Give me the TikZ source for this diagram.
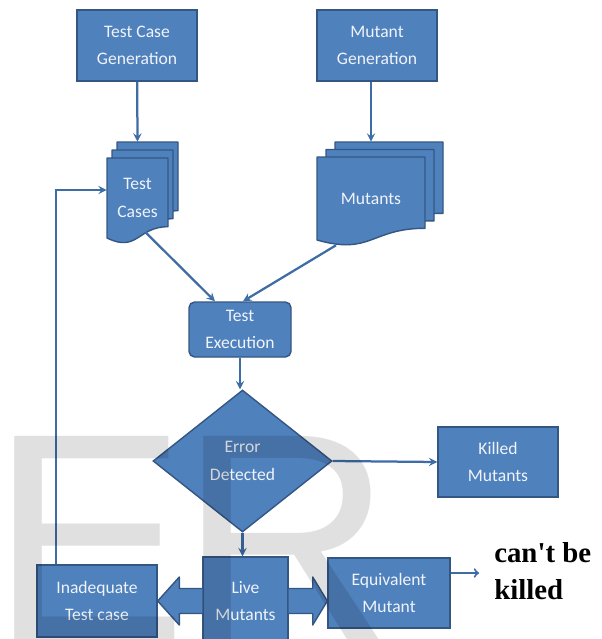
\documentclass[tikz,border=0pt]{standalone}
\usepackage{fontspec}
\setmainfont{Carlito}
\newfontfamily\noteFont{Liberation Serif}
\newfontfamily\markFont{Liberation Sans}
\usetikzlibrary{shapes.geometric, calc}

\definecolor{boxBlue}{RGB}{79,129,189}
\definecolor{edgeBlue}{RGB}{52,86,130}
\definecolor{lineBlue}{RGB}{62,108,166}
\definecolor{boxText}{RGB}{240,244,250}
\newcommand{\pxu}{0.025cm}

\begin{document}
\begin{tikzpicture}[
            x=\pxu, y=-\pxu,
            procNode/.style={rectangle, draw=edgeBlue, fill=boxBlue, line width=1pt,
            text=boxText, inner sep=0pt, align=center, font=\fontsize{12.5}{19}\selectfont},
            decisionNode/.style={diamond, draw=edgeBlue, fill=boxBlue, line width=1pt,
            text=boxText, inner sep=0pt, align=center, font=\fontsize{12.5}{20}\selectfont},
            docText/.style={text=boxText, inner sep=0pt, align=center, font=\fontsize{12.5}{20.5}\selectfont},
            sheet/.style={draw=edgeBlue, fill=boxBlue, line width=1pt, line join=round},
            blockArrow/.style={draw=edgeBlue, fill=boxBlue, line width=1pt, line join=round},
            arrow/.style={line width=1.6pt, draw=lineBlue, ->, >=stealth},
            noteArrow/.style={line width=1.4pt, draw=lineBlue, ->, >=to},
            wmark/.style={text=black, text opacity=0.12, inner sep=0pt, anchor=base west,
            font=\markFont\fontsize{210}{210}\selectfont},
        ]
        \clip (0,0) rectangle (602,639);

        % generators
        \node[procNode, minimum width=120*\pxu, minimum height=71*\pxu] (testCaseGen) at (137,45.5) {Test Case\\Generation};
        \node[procNode, minimum width=120*\pxu, minimum height=71*\pxu] (mutantGen) at (377,45.5) {Mutant\\Generation};

        % stacked documents
        \draw[sheet] (117,142) -- (178,142) -- (178,210.7) .. controls (147.5,210.7) and (147.5,236.9) .. (117,222) -- cycle;
        \draw[sheet] (112,150) -- (173,150) -- (173,218.7) .. controls (142.5,218.7) and (142.5,244.9) .. (112,230) -- cycle;
        \draw[sheet] (107,158) -- (168,158) -- (168,226.7) .. controls (137.5,226.7) and (137.5,252.9) .. (107,238) -- cycle;
        \node[docText, minimum width=61*\pxu, minimum height=80*\pxu] (testCases) at (137.5,198) {Test\\Cases};

        \draw[sheet] (335,142) -- (443,142) -- (443,213.3) .. controls (389,213.3) and (389,240.4) .. (335,225) -- cycle;
        \draw[sheet] (326,149.5) -- (434,149.5) -- (434,220.8) .. controls (380,220.8) and (380,247.9) .. (326,232.5) -- cycle;
        \draw[sheet] (317,157) -- (425,157) -- (425,228.3) .. controls (371,228.3) and (371,255.4) .. (317,240) -- cycle;
        \node[docText, minimum width=108*\pxu, minimum height=83*\pxu] (mutants) at (371,198.5) {Mutants};

        % execution and decision
        \node[procNode, rounded corners=4pt, minimum width=102*\pxu, minimum height=55*\pxu] (testExec) at (240,329.5) {Test\\Execution};
        \node[decisionNode, minimum width=179*\pxu, minimum height=142*\pxu] (errDetect) at (242.5,461) {Error\\Detected};
        \node[procNode, minimum width=120*\pxu, minimum height=70*\pxu] (killedMut) at (498,462) {Killed\\Mutants};

        % bottom row
        \node[procNode, minimum width=120*\pxu, minimum height=72*\pxu] (inadTest) at (97,601) {Inadequate\\Test case};
        \node[procNode, minimum width=85*\pxu, minimum height=88*\pxu] (liveMut) at (245.5,601) {Live\\Mutants};
        \node[procNode, minimum width=122*\pxu, minimum height=70*\pxu] (equivMutant) at (389,593) {Equivalent\\Mutant};
        \node[inner sep=0pt, anchor=west, align=left, font=\noteFont\bfseries\fontsize{20.5}{26.3}\selectfont] (cantKilled) at (494,571) {can't be\\killed};
        \coordinate (cantTip) at (479,573);

        % connectors
        \draw[arrow] (testCaseGen) -- ($(testCases.north)+(0,-16)$);
        \draw[arrow] (mutantGen.south -| mutants.north) -- ($(mutants.north)+(0,-15)$);
        \draw[arrow] ($(testCases.south)+(8,-6)$) -- ($(testExec.north)+(-25,0)$);
        \draw[arrow] ($(mutants.south)+(-35,5)$) -- ($(testExec.north)+(3,0)$);
        \draw[arrow] (testExec.south) -- (testExec.south |- errDetect.north);
        \draw[arrow] (errDetect.east) -- (killedMut.west);
        \draw[arrow] (errDetect.south) -- (errDetect.south |- liveMut.north);
        \draw[arrow] ($(inadTest.north west)+(20,0)$) |- ($(testCases.west)+(0,-8)$);
        \draw[noteArrow] (equivMutant.east |- cantTip) -- (cantTip);

        % block arrows out of live mutants
        \draw[blockArrow] ($(liveMut.west)+(0,-12.5)$) -- ++(-23,0) -- ++(0,-11.5) -- (inadTest.east |- liveMut.west)
            -- ($(liveMut.west)+(-23,24)$) -- ++(0,-11.5) -- ++(23,0);
        \draw[blockArrow] ($(liveMut.east)+(0,-12.5)$) -- ++(24,0) -- ++(0,-11.5) -- (equivMutant.west |- liveMut.east)
            -- ($(liveMut.east)+(24,24)$) -- ++(0,-11.5) -- ++(-24,0);

        % watermark
        \node[wmark] (wmE) at (-10,639) {E};
        \node[wmark] (wmR) at (179,639) {R};
    \end{tikzpicture}
\end{document}
